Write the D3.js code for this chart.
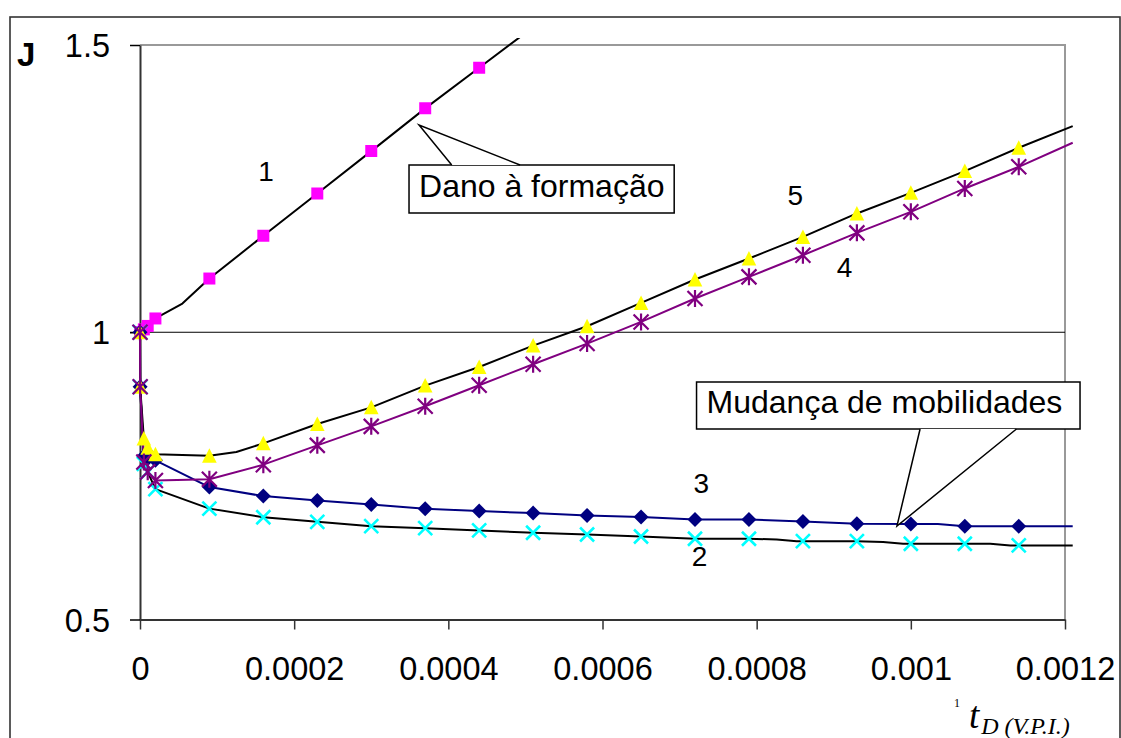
<!DOCTYPE html>
<html>
<head>
<meta charset="utf-8">
<script src="https://cdn.jsdelivr.net/npm/d3@7"></script>
<style>
  body { margin: 0; background: #fff; }
  svg { display: block; }
  text { font-family: Arial, "Liberation Sans", sans-serif; fill: #000; }
</style>
</head>
<body>
<svg id="chart" width="1121" height="738"></svg>
<script>
// Dimensionless time at which each curve is sampled (marker positions)
const tMarks = [0, 0.0000002, 0.000005, 0.00001, 0.00002, 0.00009, 0.00016, 0.00023, 0.0003,
  0.00037, 0.00044, 0.00051, 0.00058, 0.00065, 0.00072, 0.00079, 0.00086, 0.00093, 0.001,
  0.00107, 0.00114];

// Injectivity index J for each case
const jDamage = [1.0, 1.0, 1.005, 1.011, 1.024, 1.0935, 1.168, 1.2416, 1.3153, 1.3897, 1.4605, 1.531];
const jCurve2 = [1.0, 0.905, 0.771, 0.757, 0.727, 0.693, 0.678, 0.670, 0.6625, 0.659, 0.655,
  0.651, 0.648, 0.6445, 0.6405, 0.6405, 0.6364, 0.6364, 0.6319, 0.6319, 0.6289];
const jCurve3 = [1.0, 0.905, 0.784, 0.780, 0.777, 0.7305, 0.7148, 0.7073, 0.7003, 0.6928, 0.6887,
  0.6852, 0.6812, 0.6783, 0.6742, 0.6742, 0.6707, 0.6667, 0.6661, 0.6625, 0.6625];
const jCurve4 = [1.0, 0.905, 0.774, 0.757, 0.742, 0.744, 0.7695, 0.8031, 0.8362, 0.8711, 0.9077,
  0.9443, 0.9803, 1.018, 1.0587, 1.0964, 1.1341, 1.173, 1.2096, 1.2503, 1.288];
const jCurve5 = [1.0, 0.905, 0.815, 0.799, 0.7875, 0.7852, 0.8066, 0.8403, 0.8693, 0.9071, 0.9396,
  0.9768, 1.0105, 1.051, 1.0918, 1.1284, 1.166, 1.2068, 1.2427, 1.2805, 1.3211];

// Extra points of the computed curves between the sampled markers
const bends1 = [[0.000055, 1.05]];
const bends2 = [[0.000826, 0.6394], [0.000852, 0.6364], [0.000964, 0.6347], [0.00099, 0.6319],
  [0.001103, 0.6319], [0.001129, 0.6289]];
const bends3 = [[0.001035, 0.6661]];
const bends4 = [];
const bends5 = [[0.000125, 0.7915]];

// Last computed point of each curve
const tEnd = 0.00121;
const jEnd = [null, 0.6289, 0.6625, 1.3298, 1.3589];

// Axes
const xTicks = [0, 0.0002, 0.0004, 0.0006, 0.0008, 0.001, 0.0012];
const xTickLabels = ["0", "0.0002", "0.0004", "0.0006", "0.0008", "0.001", "0.0012"];
const yTicks = [0.5, 1, 1.5];
const yTickLabels = ["0.5", "1", "1.5"];

// Curve numbers and where they sit (t, J)
const curveNames = ["1", "2", "3", "4", "5"];
const numberPos = [
  [0.0001635, 1.2633], [0.000726, 0.5931], [0.000728, 0.7202], [0.000914, 1.0962], [0.00085, 1.2216]
];

// Callouts
const calloutTexts = ["Dano à formação", "Mudança de mobilidades"];

const svg = d3.select("#chart");
const plot = { left: 140, right: 1065, top: 45, bottom: 619.5 };

const x = d3.scaleLinear().domain([0, 0.0012]).range([plot.left, plot.right]);
const y = d3.scaleLinear().domain([0.5, 1.5]).range([plot.bottom, plot.top]);

// Outer chart frame
svg.append("rect")
  .attr("x", 10).attr("y", 17).attr("width", 1110).attr("height", 760)
  .attr("fill", "#fff").attr("stroke", "#333").attr("stroke-width", 1.6);

// Plot area frame (top and right edges)
svg.append("path")
  .attr("d", `M${plot.left},${plot.top}H${plot.right}V${plot.bottom}`)
  .attr("fill", "none").attr("stroke", "#999").attr("stroke-width", 2);

// Reference line at J = 1
svg.append("line")
  .attr("x1", plot.left - 10).attr("x2", plot.right)
  .attr("y1", y(1)).attr("y2", y(1))
  .attr("stroke", "#000").attr("stroke-width", 1);

// X axis
const gx = svg.append("g")
  .attr("transform", `translate(0,${plot.bottom})`)
  .call(d3.axisBottom(x).tickValues(xTicks).tickSize(10).tickSizeOuter(0)
    .tickFormat((d, i) => xTickLabels[i]));
gx.select(".domain").attr("stroke", "#333").attr("stroke-width", 2);
gx.selectAll(".tick line").attr("stroke", "#333").attr("stroke-width", 1.5);
gx.selectAll(".tick text")
  .attr("y", 60.5).attr("dy", 0)
  .style("font-size", "32.5px").style("font-family", "Arial, 'Liberation Sans', sans-serif")
  .attr("fill", "#000");

// Y axis
const gy = svg.append("g")
  .attr("transform", `translate(${plot.left},0)`)
  .call(d3.axisLeft(y).tickValues(yTicks).tickSize(10).tickSizeOuter(0).tickPadding(20)
    .tickFormat((d, i) => yTickLabels[i]));
gy.select(".domain").attr("stroke", "#333").attr("stroke-width", 2);
gy.selectAll(".tick line").attr("stroke", "#000").attr("stroke-width", 1.5);
gy.selectAll(".tick text")
  .attr("dy", "0.36em")
  .style("font-size", "32.5px").style("font-family", "Arial, 'Liberation Sans', sans-serif")
  .attr("fill", "#000");

// Axis titles
svg.append("text")
  .attr("x", 17).attr("y", 66)
  .style("font-size", "33px").style("font-weight", "bold")
  .text("J");

const xTitle = svg.append("text")
  .attr("x", 954).attr("y", 707)
  .style("font-family", "'Liberation Serif', 'Times New Roman', serif")
  .style("font-style", "italic");
xTitle.append("tspan").style("font-size", "12px").style("font-style", "normal").text("1");
xTitle.append("tspan").style("font-size", "37px").attr("dx", 9).attr("dy", 21).text("t");
xTitle.append("tspan").style("font-size", "24px").attr("dx", 2).attr("dy", 6).text("D (V.P.I.)");

// Clip region for the curves
svg.append("clipPath").attr("id", "plot-clip")
  .append("rect")
  .attr("x", plot.left - 12).attr("y", plot.top - 7)
  .attr("width", plot.right - plot.left + 24).attr("height", plot.bottom - plot.top + 20);

const layer = svg.append("g").attr("clip-path", "url(#plot-clip)");

function markerPoints(values) {
  return values.map((v, i) => [tMarks[i], v]);
}
function curvePoints(values, bends, end) {
  const pts = markerPoints(values).concat(bends);
  if (end != null) pts.push([tEnd, end]);
  return pts.sort((a, b) => a[0] - b[0]);
}

const line = d3.line().x(d => x(d[0])).y(d => y(d[1]));

const series = [
  { values: jDamage, bends: bends1, end: jEnd[0], stroke: "#000", mark: "square", color: "#ff00ff" },
  { values: jCurve2, bends: bends2, end: jEnd[1], stroke: "#000", mark: "cross", color: "#00ffff" },
  { values: jCurve3, bends: bends3, end: jEnd[2], stroke: "#000080", mark: "diamond", color: "#000080" },
  { values: jCurve5, bends: bends5, end: jEnd[4], stroke: "#000", mark: "triangle", color: "#ffff00" },
  { values: jCurve4, bends: bends4, end: jEnd[3], stroke: "#800080", mark: "asterisk", color: "#800080" }
];

const shapes = {
  square: "M-6,-6H6V6H-6Z",
  diamond: "M0,-7.5L7.5,0L0,7.5L-7.5,0Z",
  triangle: "M0,-7.5L7.3,7H-7.3Z",
  cross: "M-7,-7L7,7M-7,7L7,-7",
  asterisk: "M0,-8.5V8.5M-7.5,-7.5L7.5,7.5M-7.5,7.5L7.5,-7.5"
};

series.forEach(s => {
  layer.append("path")
    .datum(curvePoints(s.values, s.bends, s.end))
    .attr("d", line)
    .attr("fill", "none").attr("stroke", s.stroke).attr("stroke-width", 2)
    .attr("stroke-linejoin", "round");
});

series.forEach(s => {
  const filled = s.mark === "square" || s.mark === "diamond" || s.mark === "triangle";
  layer.append("g").selectAll("path")
    .data(markerPoints(s.values).filter(d => d[1] <= 1.5 + 1e-9))
    .join("path")
    .attr("transform", d => `translate(${x(d[0])},${y(d[1])})`)
    .attr("d", shapes[s.mark])
    .attr("fill", filled ? s.color : "none")
    .attr("stroke", filled ? "none" : s.color)
    .attr("stroke-width", s.mark === "cross" ? 2.6 : 2.2);
});

// Curve numbers
svg.append("g").selectAll("text")
  .data(curveNames)
  .join("text")
  .attr("x", (d, i) => x(numberPos[i][0]))
  .attr("y", (d, i) => y(numberPos[i][1]))
  .attr("text-anchor", "middle")
  .style("font-size", "28px")
  .text(d => d);

// Callout boxes with pointers, anchored in data coordinates (t, J)
const callouts = [
  { text: calloutTexts[0], box: [0.000349, 1.2911, 0.000693, 1.2076],
    base: [0.0004044, 0.000493], tip: [0.000362, 1.3607] },
  { text: calloutTexts[1], box: [0.000722, 0.9134, 0.0012195, 0.8316],
    base: [0.001012, 0.001137], tip: [0.000982, 0.6627] }
];
callouts.forEach(c => {
  const x0 = x(c.box[0]), y0 = y(c.box[1]), x1 = x(c.box[2]), y1 = y(c.box[3]);
  const g = svg.append("g");
  const tipX = x(c.tip[0]), tipY = y(c.tip[1]);
  const edgeY = tipY < y0 ? y0 : y1;
  g.append("path")
    .attr("d", `M${x0},${y0}H${x1}V${y1}H${x0}Z`)
    .attr("fill", "#fff").attr("stroke", "#000").attr("stroke-width", 1.5);
  g.append("path")
    .attr("d", `M${x(c.base[0])},${edgeY}L${tipX},${tipY}L${x(c.base[1])},${edgeY}Z`)
    .attr("fill", "#fff").attr("stroke", "none");
  g.append("path")
    .attr("d", `M${x(c.base[0])},${edgeY}L${tipX},${tipY}L${x(c.base[1])},${edgeY}`)
    .attr("fill", "none").attr("stroke", "#000").attr("stroke-width", 1.5);
  g.append("text")
    .attr("x", x0 + 10).attr("y", y1 - 16)
    .style("font-size", "32px")
    .text(c.text);
});
</script>
</body>
</html>
